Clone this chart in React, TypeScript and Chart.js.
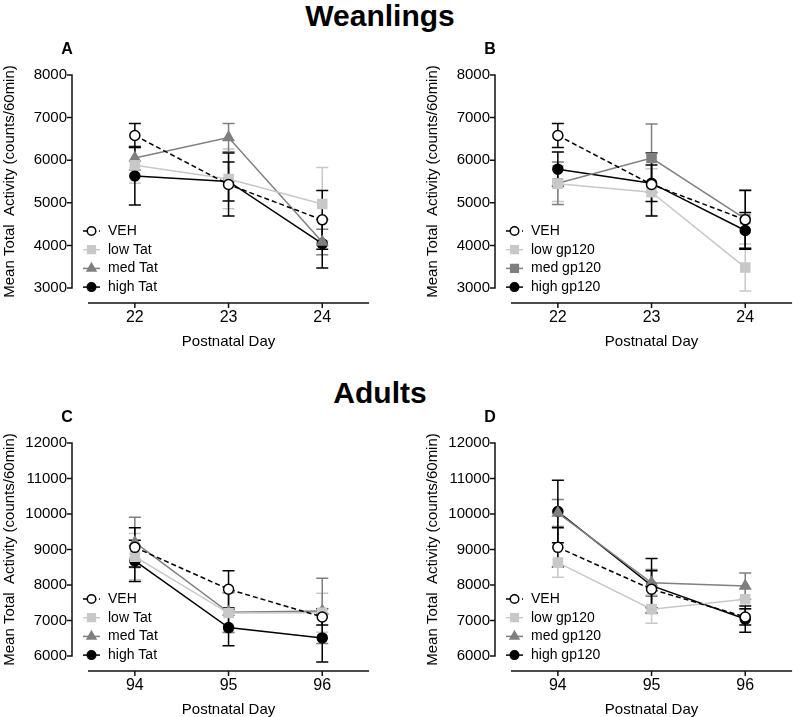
import React, { useEffect, useRef } from 'react';
import { Chart, registerables } from 'chart.js';

Chart.register(...registerables);

// ---------- data ----------
const weanlingDays = ['22', '23', '24'];
const adultDays = ['94', '95', '96'];
const weanlingYRange = [3000, 8000];
const adultYRange = [6000, 12000];
const yTickStep = 1000;

const seriesLabelsTat = ['VEH', 'low Tat', 'med Tat', 'high Tat'];
const seriesLabelsGp = ['VEH', 'low gp120', 'med gp120', 'high gp120'];

// Weanlings (mean, SEM)
const vehWeanMean = [6580, 5430, 4600];
const vehWeanSem = [280, 740, 690];
const lowTatWeanMean = [5880, 5560, 4970];
const lowTatWeanSem = [420, 700, 860];
const medTatWeanMean = [6050, 6530, 4080];
const medTatWeanSem = [280, 330, 300];
const highTatWeanMean = [5630, 5500, 4040];
const highTatWeanSem = [680, 460, 570];
const lowGpWeanMean = [5450, 5250, 3480];
const lowGpWeanSem = [420, 550, 550];
const medGpWeanMean = [5460, 6050, 4620];
const medGpWeanSem = [500, 800, 680];
const highGpWeanMean = [5790, 5460, 4350];
const highGpWeanSem = [400, 430, 420];

// Adults (mean, SEM)
const vehAdultMean = [9060, 7880, 7100];
const vehAdultSem = [550, 520, 230];
const lowTatAdultMean = [8800, 7210, 7220];
const lowTatAdultSem = [650, 560, 550];
const medTatAdultMean = [9200, 7230, 7270];
const medTatAdultSem = [710, 560, 920];
const highTatAdultMean = [8680, 6800, 6510];
const highTatAdultSem = [580, 510, 680];
const lowGpAdultMean = [8630, 7320, 7600];
const lowGpAdultSem = [410, 400, 300];
const medGpAdultMean = [10030, 8060, 7970];
const medGpAdultSem = [380, 380, 370];
const highGpAdultMean = [10070, 7980, 7040];
const highGpAdultSem = [880, 770, 370];

// ---------- styles ----------
const FONT = "'Liberation Sans', Arial, Helvetica, sans-serif";
Chart.defaults.font.family = FONT;
Chart.defaults.color = '#000';

type Style = { color: string; fill: string; point: string; radius: number; dash?: number[] };
const vehStyle: Style = { color: '#000000', fill: '#ffffff', point: 'circle', radius: 5, dash: [5, 3] };
const lowStyle: Style = { color: '#c8c8c8', fill: '#c8c8c8', point: 'rect', radius: 6.4 };
const medTriStyle: Style = { color: '#7f7f7f', fill: '#7f7f7f', point: 'triangle', radius: 6 };
const medRectStyle: Style = { color: '#7f7f7f', fill: '#7f7f7f', point: 'rect', radius: 6.4 };
const highStyle: Style = { color: '#000000', fill: '#000000', point: 'circle', radius: 5 };

type Series = Style & { label: string; mean: number[]; sem: number[] };

const mk = (label: string, mean: number[], sem: number[], st: Style): Series => ({ label, mean, sem, ...st });

const panelA: Series[] = [
  mk(seriesLabelsTat[0], vehWeanMean, vehWeanSem, vehStyle),
  mk(seriesLabelsTat[1], lowTatWeanMean, lowTatWeanSem, lowStyle),
  mk(seriesLabelsTat[2], medTatWeanMean, medTatWeanSem, medTriStyle),
  mk(seriesLabelsTat[3], highTatWeanMean, highTatWeanSem, highStyle),
];
const panelB: Series[] = [
  mk(seriesLabelsGp[0], vehWeanMean, vehWeanSem, vehStyle),
  mk(seriesLabelsGp[1], lowGpWeanMean, lowGpWeanSem, lowStyle),
  mk(seriesLabelsGp[2], medGpWeanMean, medGpWeanSem, medRectStyle),
  mk(seriesLabelsGp[3], highGpWeanMean, highGpWeanSem, highStyle),
];
const panelC: Series[] = [
  mk(seriesLabelsTat[0], vehAdultMean, vehAdultSem, vehStyle),
  mk(seriesLabelsTat[1], lowTatAdultMean, lowTatAdultSem, lowStyle),
  mk(seriesLabelsTat[2], medTatAdultMean, medTatAdultSem, medTriStyle),
  mk(seriesLabelsTat[3], highTatAdultMean, highTatAdultSem, highStyle),
];
const panelD: Series[] = [
  mk(seriesLabelsGp[0], vehAdultMean, vehAdultSem, vehStyle),
  mk(seriesLabelsGp[1], lowGpAdultMean, lowGpAdultSem, lowStyle),
  mk(seriesLabelsGp[2], medGpAdultMean, medGpAdultSem, medTriStyle),
  mk(seriesLabelsGp[3], highGpAdultMean, highGpAdultSem, highStyle),
];

function drawMarker(ctx: CanvasRenderingContext2D, s: Style, x: number, y: number) {
  ctx.save();
  ctx.fillStyle = s.fill;
  ctx.strokeStyle = s.color;
  ctx.lineWidth = 1.5;
  ctx.setLineDash([]);
  ctx.beginPath();
  const r = s.radius;
  if (s.point === 'circle') {
    ctx.arc(x, y, r, 0, Math.PI * 2);
  } else if (s.point === 'rect') {
    const h = r * Math.SQRT1_2;
    ctx.rect(x - h, y - h, 2 * h, 2 * h);
  } else {
    let a = 0;
    ctx.moveTo(x + Math.sin(a) * r, y - Math.cos(a) * r);
    a += (2 * Math.PI) / 3;
    ctx.lineTo(x + Math.sin(a) * r, y - Math.cos(a) * r);
    a += (2 * Math.PI) / 3;
    ctx.lineTo(x + Math.sin(a) * r, y - Math.cos(a) * r);
    ctx.closePath();
  }
  ctx.fill();
  ctx.stroke();
  ctx.restore();
}

function makePlugin(letter: string, series: Series[]) {
  return {
    id: 'prismStyle',
    beforeDatasetsDraw(chart: any) {
      const ctx: CanvasRenderingContext2D = chart.ctx;
      const ys = chart.scales.y;
      const order = [1, 2, 0, 3];
      order.forEach((di) => {
        const s = series[di];
        const meta = chart.getDatasetMeta(di);
        ctx.save();
        ctx.strokeStyle = s.color;
        ctx.lineWidth = 1.5;
        s.mean.forEach((v, i) => {
          const px = meta.data[i].x;
          const t = ys.getPixelForValue(v + s.sem[i]);
          const b = ys.getPixelForValue(v - s.sem[i]);
          ctx.beginPath();
          ctx.moveTo(px, t);
          ctx.lineTo(px, b);
          ctx.moveTo(px - 6, t);
          ctx.lineTo(px + 6, t);
          ctx.moveTo(px - 6, b);
          ctx.lineTo(px + 6, b);
          ctx.stroke();
        });
        ctx.restore();
      });
    },
    afterDraw(chart: any) {
      const ctx: CanvasRenderingContext2D = chart.ctx;
      const ca = chart.chartArea;
      const xs = chart.scales.x;
      const ys = chart.scales.y;
      const ax = ca.left - 16;
      const ay = ca.bottom + 15;
      ctx.save();
      ctx.strokeStyle = '#111';
      ctx.lineWidth = 1.5;
      // y axis
      const yTop = ys.getPixelForValue(ys.max);
      const yBot = ys.getPixelForValue(ys.min);
      ctx.beginPath();
      ctx.moveTo(ax, yTop - 0.75);
      ctx.lineTo(ax, yBot + 0.75);
      ys.ticks.forEach((t: any) => {
        const py = ys.getPixelForValue(t.value);
        ctx.moveTo(ax - 5, py);
        ctx.lineTo(ax, py);
      });
      // x axis
      ctx.moveTo(ca.left, ay);
      ctx.lineTo(ca.right, ay);
      xs.ticks.forEach((_t: any, i: number) => {
        const px = xs.getPixelForTick(i);
        ctx.moveTo(px, ay);
        ctx.lineTo(px, ay + 5);
      });
      ctx.stroke();
      // panel letter
      ctx.fillStyle = '#000';
      ctx.font = `bold 16px ${FONT}`;
      ctx.textAlign = 'center';
      ctx.textBaseline = 'middle';
      ctx.fillText(letter, ca.left - 21, ca.top - 25);
      // legend
      series.forEach((s, i) => {
        const cy = ca.bottom - 57 + i * 18.7;
        const lx = ca.left;
        ctx.strokeStyle = s.color;
        ctx.lineWidth = 1.5;
        ctx.setLineDash(s.dash || []);
        ctx.beginPath();
        ctx.moveTo(lx - 5, cy);
        ctx.lineTo(lx + 12, cy);
        ctx.stroke();
        ctx.setLineDash([]);
        drawMarker(ctx, { ...s, radius: s.radius * 0.85 }, lx + 3.5, cy);
        ctx.fillStyle = '#000';
        ctx.font = `14px ${FONT}`;
        ctx.textAlign = 'left';
        ctx.textBaseline = 'middle';
        ctx.fillText(s.label, lx + 20, cy);
      });
      ctx.restore();
    },
  };
}

const CW = 377;
const CH = 325;

function Panel(props: { letter: string; labels: string[]; range: number[]; series: Series[]; left: number; top: number }) {
  const ref = useRef<HTMLCanvasElement | null>(null);
  useEffect(() => {
    if (!ref.current) return;
    const { series, labels, range, letter } = props;
    const chart = new Chart(ref.current, {
      type: 'line',
      data: {
        labels,
        datasets: series.map((s) => ({
          label: s.label,
          data: s.mean,
          borderColor: s.color,
          backgroundColor: s.fill,
          pointBackgroundColor: s.fill,
          pointBorderColor: s.color,
          pointStyle: s.point as any,
          pointRadius: s.radius,
          pointBorderWidth: 1.5,
          borderWidth: 1.5,
          borderDash: s.dash || [],
          tension: 0,
          clip: false as any,
        })),
      },
      options: {
        animation: false,
        responsive: false,
        maintainAspectRatio: false,
        layout: { padding: { top: 40, left: 0, right: 0, bottom: 0 } },
        plugins: {
          legend: { display: false },
          tooltip: { enabled: false },
          title: { display: false },
        },
        scales: {
          x: {
            type: 'category',
            offset: true,
            grid: { display: false, drawTicks: false },
            border: { display: false },
            ticks: { padding: 20, font: { size: 16 }, color: '#000' },
            title: { display: true, text: 'Postnatal Day', font: { size: 15 }, color: '#000', padding: { top: 0, bottom: 9 } },
            afterFit: (s: any) => {
              s.height = 72;
            },
          },
          y: {
            min: range[0],
            max: range[1],
            grid: { display: false, drawTicks: false },
            border: { display: false },
            ticks: {
              stepSize: yTickStep,
              padding: 21,
              font: { size: 15 },
              color: '#000',
              autoSkip: false,
              callback: (v: any) => String(v),
            },
            title: { display: true, text: 'Mean Total  Activity (counts/60min)', font: { size: 15 }, color: '#000', padding: { top: 1, bottom: 0 } },
            afterFit: (s: any) => {
              s.width = 88;
            },
          },
        },
      } as any,
      plugins: [makePlugin(letter, series) as any],
    });
    return () => chart.destroy();
  }, []);
  return (
    <canvas
      ref={ref}
      width={CW}
      height={CH}
      style={{ position: 'absolute', left: props.left, top: props.top, width: CW, height: CH, display: 'block' }}
    />
  );
}

const titleStyle: React.CSSProperties = {
  position: 'absolute',
  left: 0,
  width: 760,
  textAlign: 'center',
  fontFamily: FONT,
  fontWeight: 'bold',
  fontSize: 30,
  lineHeight: '30px',
  color: '#000',
};

export default function App() {
  return (
    <div style={{ position: 'absolute', left: 0, top: 0, width: 800, height: 717, overflow: 'hidden', background: '#fff' }}>
      <div style={{ ...titleStyle, top: 1 }}>Weanlings</div>
      <div style={{ ...titleStyle, top: 378 }}>Adults</div>
      <Panel letter="A" labels={weanlingDays} range={weanlingYRange} series={panelA} left={0} top={35} />
      <Panel letter="B" labels={weanlingDays} range={weanlingYRange} series={panelB} left={423} top={35} />
      <Panel letter="C" labels={adultDays} range={adultYRange} series={panelC} left={0} top={403} />
      <Panel letter="D" labels={adultDays} range={adultYRange} series={panelD} left={423} top={403} />
    </div>
  );
}
